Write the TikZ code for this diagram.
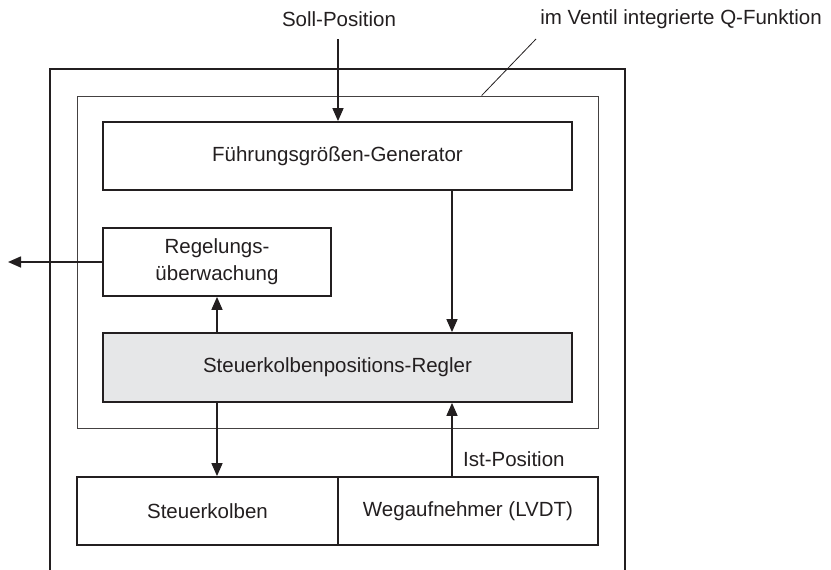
\documentclass[tikz,border=0pt]{standalone}
\usepackage{fontspec}
\setmainfont{Liberation Sans}
\usetikzlibrary{arrows.meta}
\definecolor{ink}{HTML}{231F20}
\definecolor{fillgray}{HTML}{E6E7E8}
\begin{document}
\begin{tikzpicture}[x=1pt,y=-1pt,
  font=\fontsize{20.5}{27}\selectfont, text=ink,
  box/.style={draw=ink, line width=1.8pt, inner sep=0pt, align=center},
  arr/.style={draw=ink, line width=1.6pt, -{Triangle[length=13pt,width=11pt]}},
  lbl/.style={inner sep=0pt}]
\useasboundingbox (0,0) rectangle (831,570);
% outer thick frame (open at the bottom)
\draw[draw=ink, line width=2.6pt] (50,572) -- (50,69) -- (625,69) -- (625,572);
% inner thin frame
\node[draw=ink!85, line width=1pt, minimum width=521pt, minimum height=332pt, inner sep=0pt] (inner) at (337.5,262) {};
% blocks
\node[box, minimum width=469pt, minimum height=68pt] (gen) at (337.5,156) {Führungsgrößen-Generator};
\node[box, minimum width=228pt, minimum height=68pt] (reg) at (217,262) {Regelungs-\\überwachung};
\node[box, fill=fillgray, minimum width=469pt, minimum height=69pt] (regler) at (337.5,367.5) {Steuerkolbenpositions-Regler};
\node[box, minimum width=261pt, minimum height=68pt] (steuer) at (207.5,511) {Steuerkolben};
\node[box, minimum width=260pt, minimum height=68pt] (weg) at (468,511) {Wegaufnehmer (LVDT)};
% labels
\node[lbl] (soll) at (339,19) {Soll-Position};
\node[lbl] (qfun) at (681,19) {im Ventil integrierte Q-Funktion};
\node[lbl, anchor=west] (ist) at (463,459) {Ist-Position};
% helper coordinates
\coordinate (sollstart) at (338,39);
\coordinate (xl) at (217,0);
\coordinate (xr) at (452,0);
\coordinate (outl) at (8,262);
\coordinate (qlead) at (536,39);
\coordinate (qfoot) at (481.7,0);
% connectors
\draw[arr] (sollstart) -- (gen.north -| sollstart);
\draw[arr] (gen.south -| xr) -- (regler.north -| xr);
\draw[arr] (regler.north -| xl) -- (reg.south);
\draw[arr] (reg.west) -- (outl);
\draw[arr] (regler.south -| xl) -- (steuer.north -| xl);
\draw[arr] (weg.north -| xr) -- (regler.south -| xr);
\draw[draw=ink, line width=0.8pt] (qlead) -- (inner.north -| qfoot);
\end{tikzpicture}
\end{document}
